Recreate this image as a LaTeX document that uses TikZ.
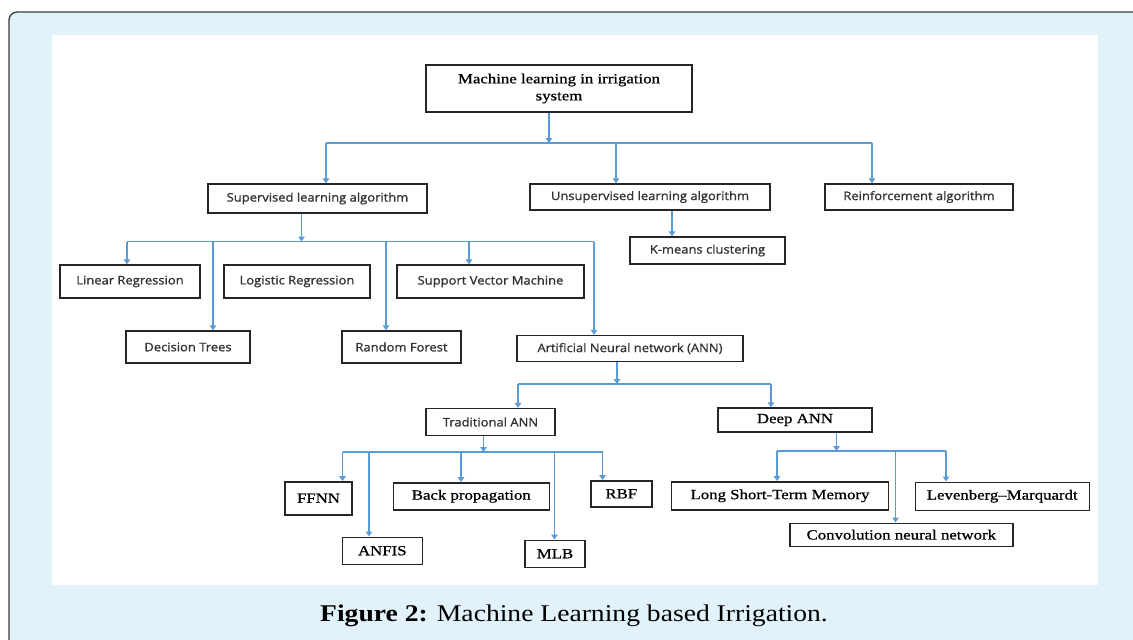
\documentclass[tikz,border=0pt]{standalone}
\usepackage{fontspec}
\usetikzlibrary{arrows.meta}
\newfontfamily\sansf[FakeStretch=1.1,FakeBold=1.2]{Open Sans}
\newfontfamily\serf[FakeStretch=1.2,FakeBold=0.8]{Liberation Serif}
\newfontfamily\capf[FakeStretch=1.15]{Liberation Serif}
\definecolor{framebg}{HTML}{E1F2FB}
\definecolor{framec}{HTML}{3A3A3A}
\definecolor{boxc}{HTML}{262626}
\definecolor{stext}{HTML}{333333}
\definecolor{arrc}{HTML}{5B9BD5}
\tikzset{
  box/.style={draw=boxc, line width=1.4pt, inner sep=0pt, anchor=center, fill=white},
  sbox/.style={box, font=\sansf\fontsize{11.8}{14}\selectfont, text=stext},
  rbox/.style={box, font=\serf\fontsize{14}{17}\selectfont, text=black},
  ln/.style={draw=arrc, line width=1.4pt},
  arr/.style={ln, -{Triangle[width=6.5pt,length=5pt]}},
}
\begin{document}
\begin{tikzpicture}[x=1pt,y=-1pt]
\useasboundingbox (0,0) rectangle (1133,640);
\begin{scope}
\clip (0,0) rectangle (1133,640);
\draw[draw=framec, line width=1.3pt, fill=framebg, rounded corners=8pt] (9,12) rectangle (1160,670);
\end{scope}
\fill[white] (52,35) rectangle (1098,585);

% boxes
\node[rbox, minimum width=266pt, minimum height=47pt, align=center] (root) at (559,88.5)
  {Machine learning in irrigation\\system};
\node[sbox, minimum width=219pt, minimum height=29pt] (sup) at (317.5,198.5) {Supervised learning algorithm};
\node[sbox, minimum width=240pt, minimum height=26pt] (uns) at (650,197) {Unsupervised learning algorithm};
\node[sbox, minimum width=188pt, minimum height=26pt] (rein) at (919,197) {Reinforcement algorithm};
\node[sbox, minimum width=155pt, minimum height=27pt] (km) at (707.5,250.5) {K-means clustering};
\node[sbox, minimum width=140pt, minimum height=33pt] (lin) at (130,281.5) {Linear Regression};
\node[sbox, minimum width=146pt, minimum height=33pt] (log) at (297,281.5) {Logistic Regression};
\node[sbox, minimum width=187pt, minimum height=33pt] (svm) at (490.5,281.5) {Support Vector Machine};
\node[sbox, minimum width=124pt, minimum height=32pt] (dt) at (188,347) {Decision Trees};
\node[sbox, minimum width=119pt, minimum height=32pt] (rf) at (401.5,347) {Random Forest};
\node[sbox, minimum width=226pt, minimum height=26pt] (ann) at (630,348.5) {Artificial Neural network (ANN)};
\node[sbox, minimum width=129pt, minimum height=27pt] (trad) at (490.5,422) {Traditional ANN};
\node[rbox, minimum width=154pt, minimum height=24pt] (deep) at (795,420) {Deep ANN};
\node[rbox, minimum width=67pt, minimum height=33pt] (ffnn) at (318.5,498.3) {FFNN};
\node[rbox, minimum width=156pt, minimum height=27pt] (bp) at (471.3,496.3) {Back propagation};
\node[rbox, minimum width=61pt, minimum height=26pt] (rbf) at (621.3,493.8) {RBF};
\node[rbox, minimum width=80pt, minimum height=27pt] (anfis) at (382.3,550.7) {ANFIS};
\node[rbox, minimum width=60pt, minimum height=27pt] (mlb) at (555,553.7) {MLB};
\node[rbox, minimum width=217pt, minimum height=28pt] (lstm) at (780,495.8) {Long Short-Term Memory};
\node[rbox, minimum width=174pt, minimum height=28pt] (lm) at (1002.2,496.2) {Levenberg–Marquardt};
\node[rbox, minimum width=223pt, minimum height=23pt] (cnn) at (901.3,534.7) {Convolution neural network};

% level 1
\coordinate (jA) at (549,143);
\coordinate (jAl) at (326,143);
\coordinate (jAm) at (616,143);
\coordinate (jAr) at (872,143);
\draw[arr] (root.south -| jA) -- (jA);
\draw[ln] (jAl) -- (jAr);
\draw[arr] (jAl) -- (sup.north -| jAl);
\draw[arr] (jAm) -- (uns.north -| jAm);
\draw[arr] (jAr) -- (rein.north -| jAr);

% unsupervised
\coordinate (jK) at (672,230);
\draw[arr] (uns.south -| jK) -- (km.north -| jK);

% supervised
\coordinate (jB) at (301.5,241.5);
\coordinate (jB1) at (127,241.5);
\coordinate (jB2) at (213,241.5);
\coordinate (jB3) at (386,241.5);
\coordinate (jB4) at (469,241.5);
\coordinate (jB5) at (594,241.5);
\draw[arr] (sup.south -| jB) -- (jB);
\draw[ln] (jB1) -- (jB5);
\draw[arr] (jB1) -- (lin.north -| jB1);
\draw[arr] (jB2) -- (dt.north -| jB2);
\draw[arr] (jB3) -- (rf.north -| jB3);
\draw[arr] (jB4) -- (svm.north -| jB4);
\draw[arr] (jB5) -- (ann.north -| jB5);

% ANN
\coordinate (jC) at (617,384);
\coordinate (jCl) at (518,384);
\coordinate (jCr) at (771,384);
\draw[arr] (ann.south -| jC) -- (jC);
\draw[ln] (jCl) -- (jCr);
\draw[arr] (jCl) -- (trad.north -| jCl);
\draw[arr] (jCr) -- (deep.north -| jCr);

% traditional
\coordinate (jD) at (483.5,452);
\coordinate (jD1) at (342.5,452);
\coordinate (jD2) at (369,452);
\coordinate (jD3) at (461,452);
\coordinate (jD4) at (554.5,452);
\coordinate (jD5) at (602.5,452);
\draw[arr] (trad.south -| jD) -- (jD);
\draw[ln] (jD1) -- (jD5);
\draw[arr] (jD1) -- (ffnn.north -| jD1);
\draw[arr] (jD2) -- (anfis.north -| jD2);
\draw[arr] (jD3) -- (bp.north -| jD3);
\draw[arr] (jD4) -- (mlb.north -| jD4);
\draw[arr] (jD5) -- (rbf.north -| jD5);

% deep
\coordinate (jE) at (836.5,451);
\coordinate (jE1) at (777,451);
\coordinate (jE2) at (895.5,451);
\coordinate (jE3) at (946,451);
\draw[arr] (deep.south -| jE) -- (jE);
\draw[ln] (jE1) -- (jE3);
\draw[arr] (jE1) -- (lstm.north -| jE1);
\draw[arr] (jE2) -- (cnn.north -| jE2);
\draw[arr] (jE3) -- (lm.north -| jE3);

% caption
\node[font=\capf\fontsize{24}{28}\selectfont, text=black, inner sep=0pt] (cap) at (574,616)
  {\bfseries Figure 2:\mdseries{} Machine Learning based Irrigation.};
\end{tikzpicture}
\end{document}
